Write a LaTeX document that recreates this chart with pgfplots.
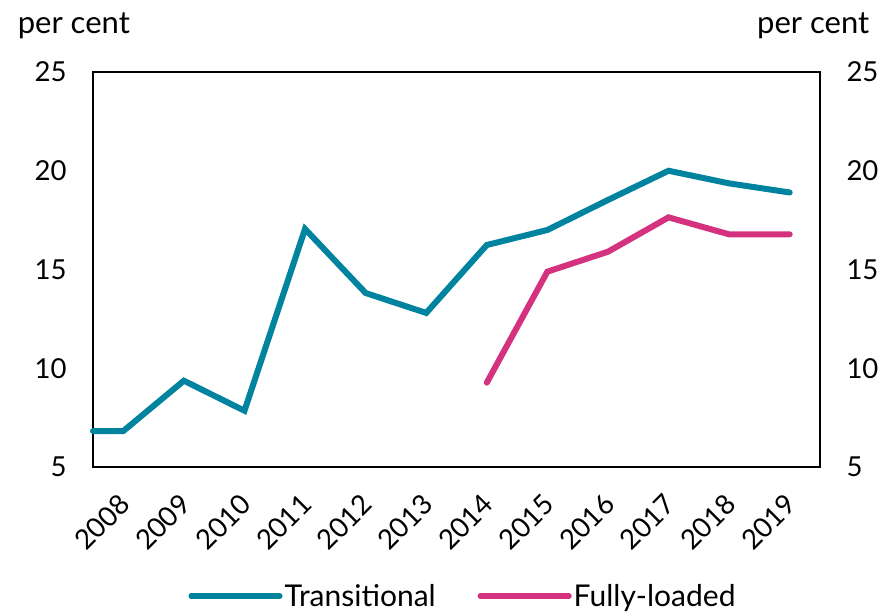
\documentclass[border=0pt]{standalone}
\usepackage{pgfplots}
\pgfplotsset{compat=1.18}
\usepackage{fontspec}
\setmainfont{Lato}
\definecolor{myteal}{HTML}{00839F}
\definecolor{mypink}{HTML}{D4317E}
\pgfplotstableread{
x y
-0.5 6.82
0 6.82
1 9.37
2 7.85
3 17.05
4 13.81
5 12.80
6 16.24
7 17.00
8 18.52
9 20.00
10 19.36
11 18.90
}\transitional
\pgfplotstableread{
x y
6 9.27
7 14.89
8 15.90
9 17.64
10 16.78
11 16.78
}\fullyloaded
\begin{document}
\begin{tikzpicture}
\useasboundingbox (-93pt,-145pt) rectangle (794pt,467pt);
\begin{axis}[
  at={(0pt,0pt)}, anchor=south west,
  scale only axis, width=727pt, height=395pt,
  xmin=-0.5, xmax=11.5, ymin=5, ymax=25,
  ytick={5,10,15,20,25},
  xtick={0,1,2,3,4,5,6,7,8,9,10,11},
  xticklabels={2008,2009,2010,2011,2012,2013,2014,2015,2016,2017,2018,2019},
  major tick length=0pt,
  axis line style={line width=1.5pt},
  /pgf/number format/assume math mode=true,
  tick label style={font=\fontsize{27.5}{32}\selectfont},
  yticklabel style={xshift=-23pt},
  xticklabel style={xshift=4pt, yshift=-30pt, rotate=45, anchor=east},
  clip=false,
  legend columns=2,
  legend style={at={(0.509,-0.327)}, anchor=center, draw=none, fill=none,
    font=\fontsize{30}{36}\selectfont,
    /tikz/every even column/.append style={column sep=40pt}},
  legend image code/.code={\draw[#1, line cap=round] (0pt,0pt) -- (77pt,0pt); \path (0pt,0pt) -- (88pt,0pt);},
]
\addplot[myteal, line width=6pt, line cap=round] table[x=x,y=y] {\transitional};
\addlegendentry{Transitional}
\addplot[mypink, line width=6pt, line cap=round] table[x=x,y=y] {\fullyloaded};
\addlegendentry{Fully-loaded}
\node[anchor=base east, font=\fontsize{31}{36}\selectfont, inner sep=0pt] at (axis description cs:0.0509,1.0987) {per cent};
\node[anchor=base west, font=\fontsize{31}{36}\selectfont, inner sep=0pt] at (axis description cs:0.9133,1.0987) {per cent};
\end{axis}
\begin{axis}[
  at={(0pt,0pt)}, anchor=south west,
  scale only axis, width=727pt, height=395pt,
  xmin=-0.5, xmax=11.5, ymin=5, ymax=25,
  ytick={5,10,15,20,25},
  axis x line=none, axis y line*=right,
  major tick length=0pt,
  axis line style={line width=1.5pt, -},
  /pgf/number format/assume math mode=true,
  tick label style={font=\fontsize{27.5}{32}\selectfont},
  yticklabel style={xshift=23pt},
]
\end{axis}
\end{tikzpicture}
\end{document}
